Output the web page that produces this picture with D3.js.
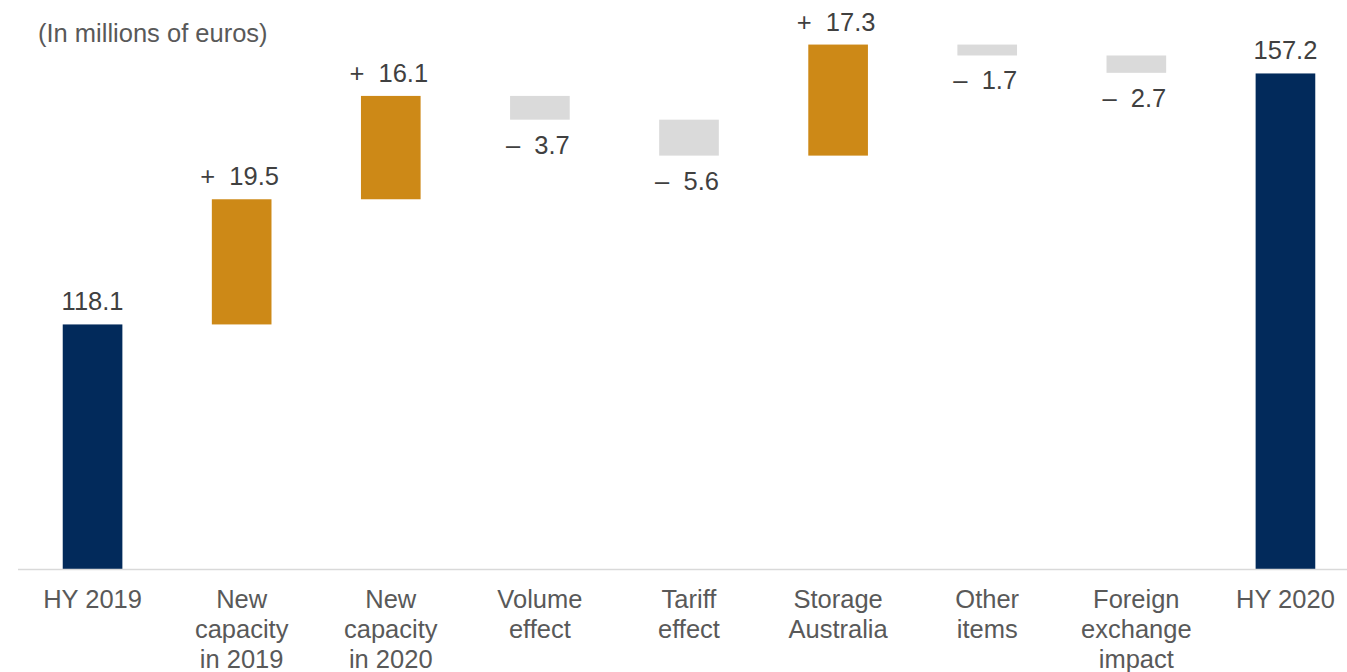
<!DOCTYPE html>
<html>
<head>
<meta charset="utf-8">
<script src="https://cdn.jsdelivr.net/npm/d3@7"></script>
<style>
  html, body { margin: 0; padding: 0; background: #ffffff; }
  svg { display: block; font-family: "Liberation Sans", Arial, sans-serif; }
</style>
</head>
<body>
<svg id="chart" width="1347" height="672"></svg>
<script>
// EBITDA bridge, HY 2019 -> HY 2020 (in millions of euros)
const categories = [
  "HY 2019", "New capacity in 2019", "New capacity in 2020", "Volume effect",
  "Tariff effect", "Storage Australia", "Other items", "Foreign exchange impact", "HY 2020"
];
const categoryLines = [
  ["HY 2019"], ["New", "capacity", "in 2019"], ["New", "capacity", "in 2020"],
  ["Volume", "effect"], ["Tariff", "effect"], ["Storage", "Australia"],
  ["Other", "items"], ["Foreign", "exchange", "impact"], ["HY 2020"]
];
const values = [118.1, 19.5, 16.1, -3.7, -5.6, 17.3, -1.7, -2.7, 157.2];
const kinds = ["total", "delta", "delta", "delta", "delta", "delta", "delta", "delta", "total"];
const yDomain = [80, 165];
const title = "(In millions of euros)";

const colors = { total: "#022a5b", up: "#cd8917", down: "#dadada" };
const textColor = "#595959";
const valueColor = "#404040";
const fontSize = 25.5;

const svg = d3.select("#chart");

const x = d3.scaleBand()
  .domain(categories)
  .range([18, 1360])
  .paddingInner(0.6)
  .paddingOuter(0.3);

const y = d3.scaleLinear()
  .domain(yDomain)
  .range([569, 569 - (yDomain[1] - yDomain[0]) * 6.419]);

// Build floating segments from running totals
let running = 0;
const bars = values.map((v, i) => {
  let start, end;
  if (kinds[i] === "total") {
    start = yDomain[0];
    end = v;
    running = v;
  } else {
    start = running;
    end = running + v;
    running = end;
  }
  return { cat: categories[i], value: v, kind: kinds[i], start, end };
});

const fillOf = d => d.kind === "total" ? colors.total : (d.value >= 0 ? colors.up : colors.down);

// Bars
svg.append("g")
  .selectAll("rect")
  .data(bars)
  .join("rect")
  .attr("x", d => x(d.cat))
  .attr("width", x.bandwidth())
  .attr("y", d => y(Math.max(d.start, d.end)))
  .attr("height", d => Math.abs(y(d.start) - y(d.end)))
  .attr("fill", fillOf);

// Baseline
svg.append("line")
  .attr("x1", 18).attr("x2", 1347)
  .attr("y1", y(yDomain[0]) + 0.5).attr("y2", y(yDomain[0]) + 0.5)
  .attr("stroke", "#d9d9d9")
  .attr("stroke-width", 1.5);

// Value labels: above rising/total bars, below falling bars
const fmt = d3.format(".1f");
const labelText = d => {
  if (d.kind === "total") return fmt(d.value);
  return (d.value >= 0 ? "+\u00A0\u00A0" : "\u2013\u00A0\u00A0") + fmt(Math.abs(d.value));
};

svg.append("g")
  .selectAll("text")
  .data(bars)
  .join("text")
  .attr("x", d => x(d.cat) + x.bandwidth() / 2 - (d.kind === "delta" ? 2 : 0))
  .attr("y", d => d.kind === "delta" && d.value < 0
    ? y(Math.min(d.start, d.end)) + 34
    : y(Math.max(d.start, d.end)) - 14)
  .attr("text-anchor", "middle")
  .attr("font-size", fontSize)
  .attr("fill", valueColor)
  .text(labelText);

// Category labels
const catG = svg.append("g")
  .selectAll("text")
  .data(categories)
  .join("text")
  .attr("text-anchor", "middle")
  .attr("font-size", fontSize)
  .attr("fill", textColor);

catG.selectAll("tspan")
  .data((d, i) => categoryLines[i].map(line => ({ line, cat: d })))
  .join("tspan")
  .attr("x", d => x(d.cat) + x.bandwidth() / 2)
  .attr("y", (d, j) => 608 + j * 30)
  .text(d => d.line);

// Unit note
svg.append("text")
  .attr("x", 38)
  .attr("y", 42)
  .attr("font-size", fontSize)
  .attr("fill", textColor)
  .text(title);
</script>
</body>
</html>
